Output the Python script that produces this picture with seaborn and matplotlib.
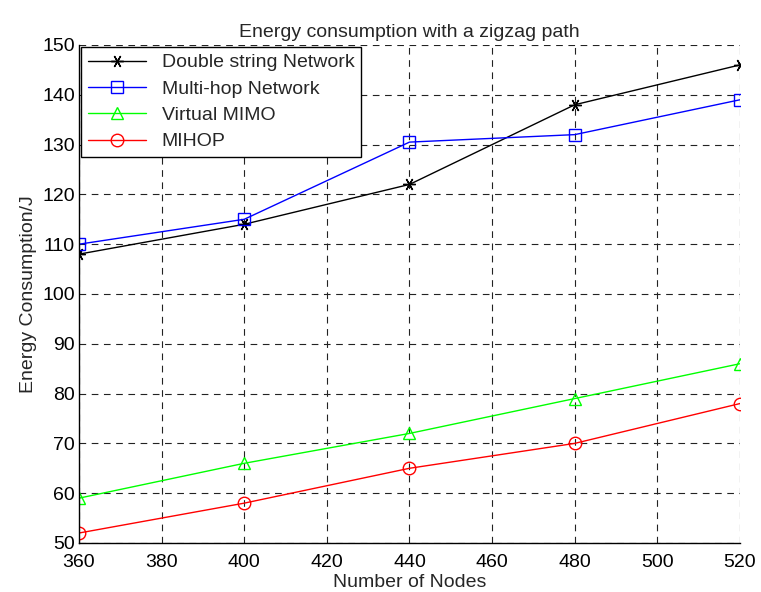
import matplotlib
matplotlib.use("Agg")
import matplotlib.pyplot as plt
import pandas as pd
import seaborn as sns

# data
nodes = [360, 400, 440, 480, 520]
double_string = [108, 114, 122, 138, 146]
multi_hop = [110, 115, 130.5, 132, 139]
virtual_mimo = [59, 66, 72, 79, 86]
mihop = [52, 58, 65, 70, 78]

series_names = ['Double string Network', 'Multi-hop Network', 'Virtual MIMO', 'MIHOP']
series_colors = ['black', 'blue', '#00ff00', 'red']
series_markers = [(6, 2, 90), 's', '^', 'o']

sns.set_style("white")
plt.rcParams['font.family'] = ['Liberation Sans', 'DejaVu Sans']

fig = plt.figure(figsize=(7.61, 5.92), dpi=100)
ax = fig.add_axes([0.1038, 0.0828, 0.8686, 0.8412])

for name, vals, col, mk in zip(series_names, [double_string, multi_hop, virtual_mimo, mihop],
                               series_colors, series_markers):
    df = pd.DataFrame({'x': nodes, 'y': vals})
    sns.lineplot(data=df, x='x', y='y', ax=ax, color=col, marker=mk, label=name,
                 markersize=9, markerfacecolor='none', markeredgecolor=col,
                 markeredgewidth=1.0, linewidth=1.0)

ax.set_xlim(360, 520)
ax.set_ylim(50, 150)
ax.set_xticks(range(360, 521, 20))
ax.set_yticks(range(50, 151, 10))
ax.grid(True, color='#222222', linestyle=(0, (6, 5)), linewidth=0.8)

for s in ['top', 'right']:
    ax.spines[s].set_visible(False)
for s in ['left', 'bottom']:
    ax.spines[s].set_color('black')
    ax.spines[s].set_linewidth(1.0)

ax.tick_params(axis='both', direction='in', length=5, labelsize=14, colors='black')
ax.tick_params(axis='x', pad=8)
ax.tick_params(axis='y', pad=3)
ax.set_title('Energy consumption with a zigzag path', fontsize=14, pad=6)
ax.set_xlabel('Number of Nodes', fontsize=14, labelpad=2)
ax.set_ylabel('Energy Consumption/J', fontsize=14, labelpad=4)

leg = ax.legend(loc='upper left', fontsize=14, frameon=True, fancybox=False,
                handlelength=3.0, borderaxespad=0.1, labelspacing=0.45, borderpad=0.35)
leg.get_frame().set_edgecolor('black')
leg.get_frame().set_linewidth(1.0)
leg.get_frame().set_alpha(1)

fig.savefig('out.png', dpi=100)
